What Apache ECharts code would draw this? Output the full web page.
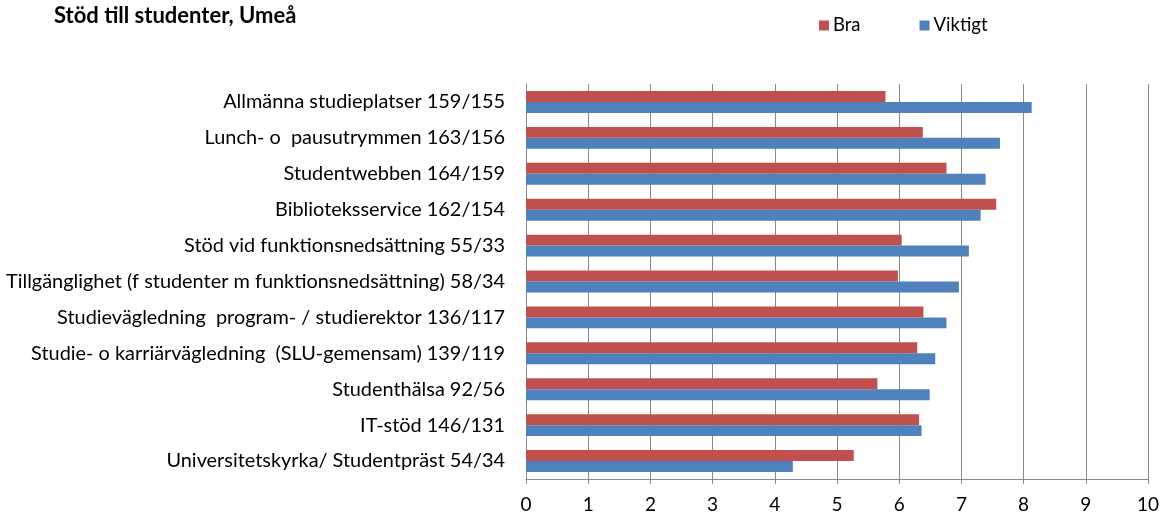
<!DOCTYPE html>
<html>
<head>
<meta charset="utf-8">
<script src="https://cdn.jsdelivr.net/npm/echarts@6/dist/echarts.min.js"></script>
<style>
  html, body { margin: 0; padding: 0; background: #fff; }
  #main { width: 1162px; height: 516px; }
</style>
</head>
<body>
<div id="main"></div>
<script>
// categories top to bottom
var categories = [
  'Allmänna studieplatser 159/155',
  'Lunch- o  pausutrymmen 163/156',
  'Studentwebben 164/159',
  'Biblioteksservice 162/154',
  'Stöd vid funktionsnedsättning 55/33',
  'Tillgänglighet (f studenter m funktionsnedsättning) 58/34',
  'Studievägledning  program- / studierektor 136/117',
  'Studie- o karriärvägledning  (SLU-gemensam) 139/119',
  'Studenthälsa 92/56',
  'IT-stöd 146/131',
  'Universitetskyrka/ Studentpräst 54/34'
]
var braValues = [5.78, 6.38, 6.76, 7.56, 6.04, 5.98, 6.39, 6.29, 5.65, 6.32, 5.27]
var viktigtValues = [8.13, 7.62, 7.39, 7.31, 7.12, 6.96, 6.76, 6.58, 6.49, 6.36, 4.29]
var xTicks = [0, 10, 1] // min, max, interval

var font = 'Lato, "Open Sans", sans-serif'
var chart = echarts.init(document.getElementById('main'))

var option = {
  animation: false,
  title: {
    text: 'Stöd till studenter, Umeå',
    left: 49,
    top: 0,
    textStyle: {
      fontFamily: font,
      fontSize: 22,
      fontWeight: 'bold',
      color: '#000'
    }
  },
  color: ['#C0504D', '#4F81BD'],
  legend: {
    left: 814,
    top: 11,
    itemWidth: 10,
    itemHeight: 10,
    itemGap: 59,
    icon: 'rect',
    textStyle: {
      fontFamily: font,
      fontSize: 18.5,
      color: '#000',
      padding: [0, 0, 0, -1]
    },
    data: ['Bra', 'Viktigt']
  },
  grid: {
    left: 526,
    right: 11,
    top: 84,
    bottom: 37,
    containLabel: false
  },
  xAxis: {
    type: 'value',
    min: xTicks[0],
    max: xTicks[1],
    interval: xTicks[2],
    axisLine: { show: true, lineStyle: { color: '#888', width: 1 } },
    axisTick: { show: true, length: 5, lineStyle: { color: '#888' } },
    axisLabel: {
      margin: 16,
      fontFamily: font,
      fontSize: 19,
      color: '#000'
    },
    splitLine: { show: true, lineStyle: { color: '#888', width: 1 } }
  },
  yAxis: {
    type: 'category',
    inverse: true,
    data: categories,
    axisLine: { show: true, lineStyle: { color: '#888', width: 1 } },
    axisTick: { show: false },
    axisLabel: {
      margin: 21,
      fontFamily: font,
      fontSize: 19.9,
      color: '#000'
    }
  },
  series: [
    {
      name: 'Bra',
      type: 'bar',
      data: braValues,
      barGap: '0%',
      barCategoryGap: '39%'
    },
    {
      name: 'Viktigt',
      type: 'bar',
      data: viktigtValues,
      barGap: '0%',
      barCategoryGap: '39%'
    }
  ]
}
chart.setOption(option)
</script>
</body>
</html>
